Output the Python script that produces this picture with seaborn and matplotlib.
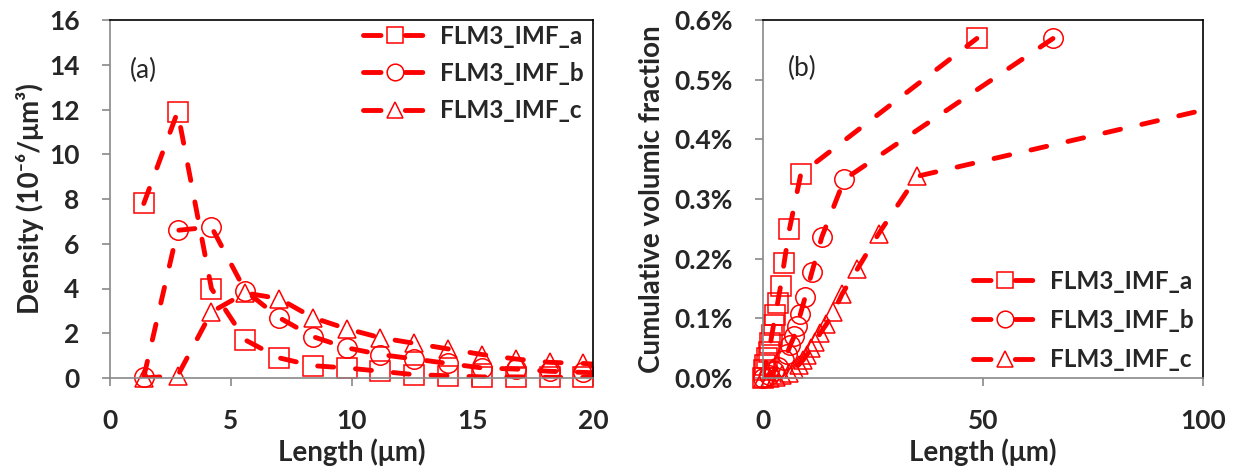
import numpy as np
import pandas as pd
import matplotlib
matplotlib.use("Agg")
import matplotlib.pyplot as plt
from matplotlib.lines import Line2D
from matplotlib.ticker import PercentFormatter
import seaborn as sns

# (a) density vs length, 1.4 um bins (last point lies past the axis end)
bin_len = [1.4, 2.8, 4.2, 5.6, 7.0, 8.4, 9.8, 11.2, 12.6, 14.0, 15.4, 16.8, 18.2, 19.6, 21.0]
dens_a = [7.8, 11.9, 4.0, 1.7, 0.9, 0.55, 0.45, 0.3, 0.15, 0.1, 0.05, 0.05, 0.03, 0.03, 0.02]
dens_b = [0.05, 6.6, 6.75, 3.9, 2.7, 1.85, 1.35, 1.05, 0.85, 0.65, 0.45, 0.4, 0.3, 0.25, 0.2]
dens_c = [0.0, 0.1, 2.95, 3.8, 3.55, 2.7, 2.2, 1.8, 1.55, 1.3, 1.05, 0.85, 0.7, 0.65, 0.55]

# (b) cumulative volumic fraction vs length
cum_len_a = [0, 0.2, 0.5, 0.9, 1.3, 1.7, 2.0, 2.4, 2.8, 3.3, 4.0, 4.8, 6.0, 8.6, 48.6]
cum_a = [0, 0.00013, 0.00022, 0.00033, 0.00044, 0.00058, 0.00072, 0.00089, 0.00105,
         0.00125, 0.00154, 0.00193, 0.00249, 0.00342, 0.00569]
cum_len_b = [0, 1.3, 2.4, 3.5, 4.7, 5.5, 6.2, 7.1, 7.7, 8.5, 9.6, 11.1, 13.4, 18.5, 65.9]
cum_b = [0, 0.00005, 0.00011, 0.00019, 0.00030, 0.00041, 0.00055, 0.00070, 0.00087,
         0.00107, 0.00136, 0.00177, 0.00237, 0.00333, 0.00569]
cum_len_c = [0, 1.5, 3.0, 4.3, 5.8, 7.0, 8.1, 9.1, 10.0, 10.9, 11.9, 13.0, 14.4, 16.0,
             18.0, 21.4, 26.3, 35.0, 130.0]
cum_c = [0, 0, 0.00001, 0.00005, 0.00009, 0.00015, 0.00022, 0.00030, 0.00039, 0.00050,
         0.00061, 0.00075, 0.00090, 0.00110, 0.00141, 0.00182, 0.00242, 0.00338, 0.0050]

names = ["FLM3_IMF_a", "FLM3_IMF_b", "FLM3_IMF_c"]
markers = ["s", "o", "^"]
msizes = [14, 14, 13]

RED = "#FF0000"
GREY = "#898989"
LW = 3.5
DASH = (0, (3.3, 4.5))
MEW = 1.1
TICK_FS = 19
LABEL_FS = 20
LEG_FS = 17.5

sns.set_theme(style="white")
plt.rcParams['font.family'] = ['Lato', 'DejaVu Sans']


def draw_series(ax, x, y, marker, ms, xmax):
    df = pd.DataFrame({"x": x, "y": y})
    # dashed line, clipped to the plot area
    sns.lineplot(data=df, x="x", y="y", ax=ax, color=RED, linewidth=LW, linestyle=DASH,
                 dash_capstyle="round", sort=False, estimator=None)
    # hollow markers, not clipped (Excel style)
    inside = df[df["x"] <= xmax]
    sns.lineplot(data=inside, x="x", y="y", ax=ax, color=RED, linestyle="none",
                 marker=marker, markersize=ms, markerfacecolor="none",
                 markeredgecolor=RED, markeredgewidth=MEW, sort=False,
                 estimator=None, clip_on=False)


def style_axes(ax):
    for side in ["left", "bottom"]:
        ax.spines[side].set_color(GREY)
        ax.spines[side].set_linewidth(1.2)
    for side in ["top", "right"]:
        ax.spines[side].set_color("black")
        ax.spines[side].set_linewidth(1.2)
    ax.tick_params(axis="both", direction="out", length=6, width=1.2, color=GREY,
                   pad=16, labelsize=TICK_FS, left=True, bottom=True)
    for lab in ax.get_xticklabels() + ax.get_yticklabels():
        lab.set_fontweight("bold")


def legend_handles():
    hs = []
    for m, ms in zip(markers, msizes):
        hs.append(Line2D([], [], color=RED, linewidth=LW, linestyle=(0, (3.6, 5)),
                         dash_capstyle="round", marker=m, markersize=ms - 2,
                         markerfacecolor="none", markeredgecolor=RED,
                         markeredgewidth=MEW))
    return hs


fig = plt.figure(figsize=(12.43, 4.72), dpi=100)
ax1 = fig.add_axes([110 / 1243, 94 / 472, 483 / 1243, 358 / 472])
ax2 = fig.add_axes([763 / 1243, 94 / 472, 440 / 1243, 358 / 472])

# panel (a)
for ys, m, ms in zip([dens_a, dens_b, dens_c], markers, msizes):
    draw_series(ax1, bin_len, ys, m, ms, 20)
ax1.set_xlim(0, 20)
ax1.set_ylim(0, 16)
ax1.set_xticks([0, 5, 10, 15, 20])
ax1.set_yticks(np.arange(0, 17, 2))
style_axes(ax1)
ax1.set_xlabel("Length (μm)", fontsize=LABEL_FS, fontweight="bold", labelpad=4)
ax1.set_ylabel("Density (10⁻⁶/μm³)", fontsize=LABEL_FS, fontweight="bold")
ax1.yaxis.set_label_coords(-0.137, 0.5)
ax1.text(0.041, 0.86, "(a)", transform=ax1.transAxes, fontsize=TICK_FS, va="center")
ax1.legend(legend_handles(), names, loc="upper left", bbox_to_anchor=(0.524, 0.987),
           frameon=False, borderpad=0, borderaxespad=0, handlelength=2.63,
           handletextpad=0.53, labelspacing=0.59, prop={"size": LEG_FS, "weight": "bold"})

# panel (b)
for xs, ys, m, ms in zip([cum_len_a, cum_len_b, cum_len_c], [cum_a, cum_b, cum_c],
                         markers, msizes):
    draw_series(ax2, xs, ys, m, ms, 100)
ax2.set_xlim(0, 100)
ax2.set_ylim(0, 0.006)
ax2.set_xticks([0, 50, 100])
ax2.set_yticks(np.arange(0, 0.0061, 0.001))
ax2.yaxis.set_major_formatter(PercentFormatter(xmax=1, decimals=1))
style_axes(ax2)
ax2.set_xlabel("Length (μm)", fontsize=LABEL_FS, fontweight="bold", labelpad=4)
ax2.set_ylabel("Cumulative volumic fraction", fontsize=LABEL_FS, fontweight="bold")
ax2.yaxis.set_label_coords(-0.2227, 0.5)
ax2.text(0.057, 0.866, "(b)", transform=ax2.transAxes, fontsize=TICK_FS, va="center")
ax2.legend(legend_handles(), names, loc="upper left", bbox_to_anchor=(0.477, 0.303),
           frameon=False, borderpad=0, borderaxespad=0, handlelength=2.63,
           handletextpad=0.53, labelspacing=0.67, prop={"size": LEG_FS, "weight": "bold"})

fig.savefig("out.png", dpi=100)
